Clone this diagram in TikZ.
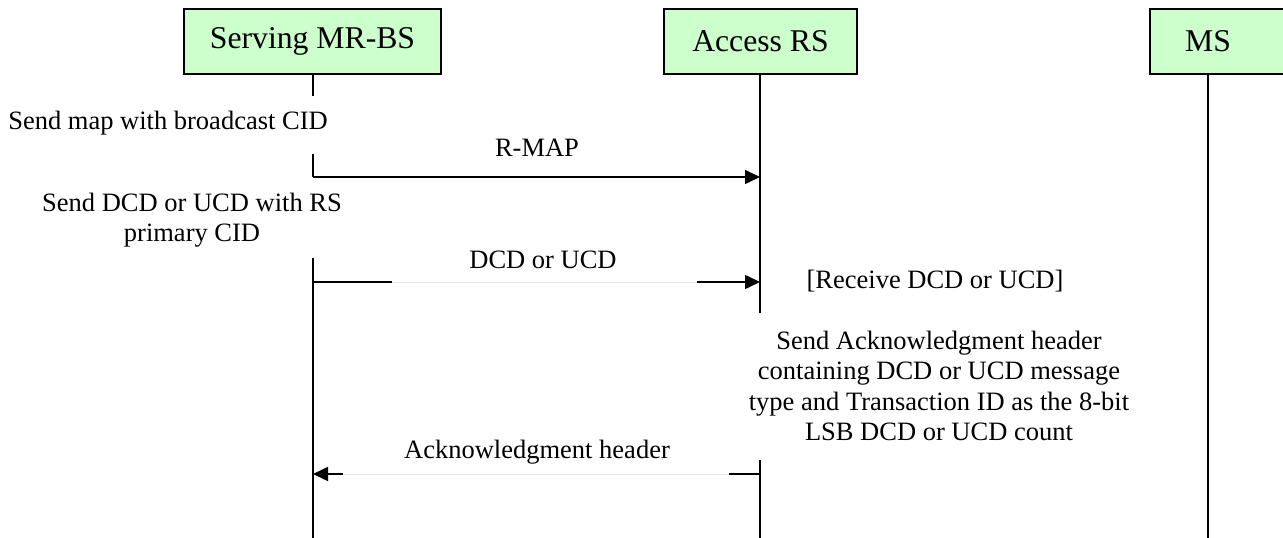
\documentclass[tikz,border=0pt]{standalone}
\usepackage{fontspec}
\setmainfont{Liberation Serif}
\usetikzlibrary{arrows.meta}
\definecolor{boxgreen}{HTML}{CCFFCC}
\definecolor{faint}{HTML}{E6E6E6}
\begin{document}
\begin{tikzpicture}[x=1pt,y=-1pt,
  actor/.style={draw=black,line width=1.6pt,fill=boxgreen,inner sep=0pt,minimum height=65pt,font=\fontsize{31.7}{36}\selectfont},
  life/.style={line width=1.6pt},
  msg/.style={line width=1.6pt},
  msgarrow/.style={line width=1.6pt,-{Triangle[length=15pt,width=14pt]}},
  gapline/.style={line width=1pt,draw=faint},
  lbl/.style={inner sep=0pt,font=\fontsize{26.5}{30.5}\selectfont,align=center}]
\clip (0,0) rectangle (1283,538);
% actors
\node[actor,minimum width=257pt] (srv) at (312.5,41.5) {Serving MR-BS};
\node[actor,minimum width=193pt] (acc) at (760.5,41.5) {Access RS};
\draw[line width=1.6pt,fill=boxgreen] (1150,9) rectangle (1320,74);
\node[inner sep=0pt,font=\fontsize{31.7}{36}\selectfont] (ms) at (1208,41.5) {MS};
% lifeline coordinates
\coordinate (srvA) at (313,96);
\coordinate (srvB) at (313,154);
\coordinate (srvC) at (313,177);
\coordinate (srvD) at (313,258);
\coordinate (srvE) at (313,282);
\coordinate (srvF) at (313,474);
\coordinate (srvEnd) at (313,538);
\coordinate (accB) at (760,177);
\coordinate (accC) at (760,282);
\coordinate (accD) at (760,313);
\coordinate (accE) at (760,460);
\coordinate (accF) at (760,474);
\coordinate (accEnd) at (760,538);
\coordinate (msEnd) at (1208,538);
% lifelines
\draw[life] (srv.south -| srvA) -- (srvA);
\draw[life] (srvB) -- (srvC);
\draw[life] (srvD) -- (srvEnd);
\draw[life] (acc.south -| accB) -- (accD);
\draw[life] (accE) -- (accEnd);
\draw[life] (ms.south |- 0,74) -- (msEnd);
% labels
\node[lbl] (l1) at (168,123) {Send map with broadcast CID};
\node[lbl] (l2) at (192,220) {Send DCD or UCD with RS\\primary CID};
\node[lbl] (l3) at (537,148) {R-MAP};
\node[lbl] (l4) at (543,260) {DCD or UCD};
\node[lbl] (l5) at (935,281) {[Receive DCD or UCD]};
\node[lbl] (l6) at (939,386) {Send Acknowledgment header\\containing DCD or UCD message\\type and Transaction ID as the 8-bit\\LSB DCD or UCD count};
\node[lbl] (l7) at (537,452) {Acknowledgment header};
% messages
\draw[msgarrow] (srvC) -- (accB);
\coordinate (d1) at (392,282);
\coordinate (d2) at (697,282);
\draw[msg] (srvE) -- (d1);
\draw[gapline] (d1) -- (d2);
\draw[msgarrow] (d2) -- (accC);
\coordinate (k1) at (729,474);
\coordinate (k2) at (343,474);
\draw[msg] (accF) -- (k1);
\draw[gapline] (k1) -- (k2);
\draw[msgarrow] (k2) -- (srvF);
\end{tikzpicture}
\end{document}
